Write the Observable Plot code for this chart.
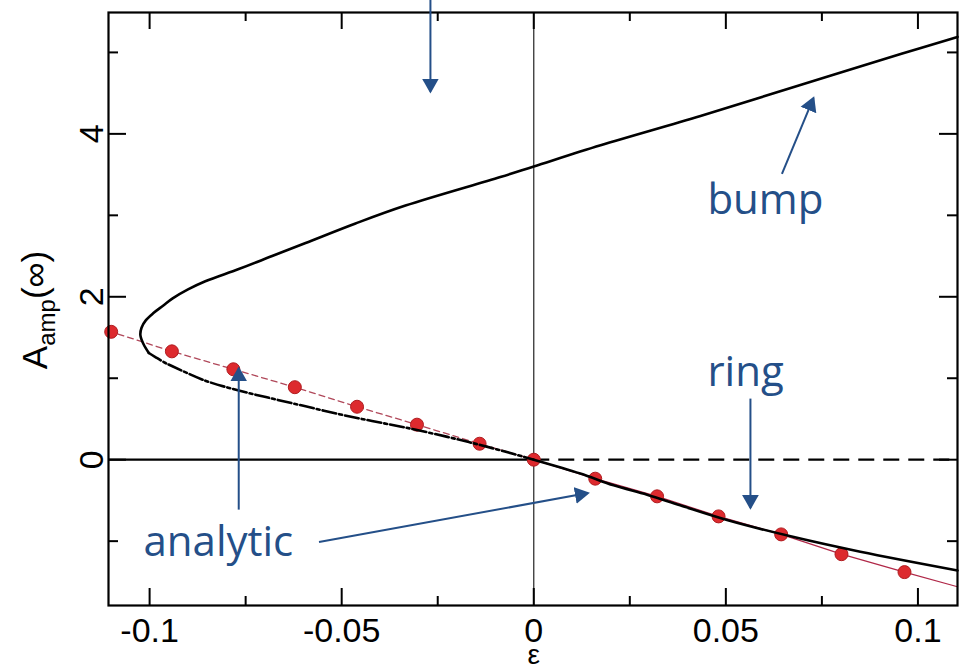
<!DOCTYPE html>
<html><head><meta charset="utf-8">
<script src="https://cdn.jsdelivr.net/npm/d3@7"></script>
<script src="https://cdn.jsdelivr.net/npm/@observablehq/plot@0.6"></script>
<style>body{margin:0;background:#fff;overflow:hidden}</style>
</head><body><div id="chart"></div>
<script>
// ---- data ----
// upper branch ("bump"), drawn solid from just below the fold to the right edge
const bumpEps = [-0.1002, -0.1016, -0.1024, -0.1021, -0.1010, -0.0990, -0.0965, -0.0940, -0.0900, -0.0855, -0.0768, -0.0681, -0.0594, -0.0464, -0.0334, -0.0087, 0, 0.0174, 0.0434, 0.0694, 0.0955, 0.1103];
const bumpA   = [1.31, 1.42, 1.53, 1.62, 1.71, 1.80, 1.89, 1.98, 2.09, 2.19, 2.34, 2.50, 2.66, 2.90, 3.12, 3.47, 3.60, 3.86, 4.22, 4.60, 4.98, 5.19];
// lower branch ("ring"), unstable part (dash-dot, to 0)
const ringUnstEps = [-0.1002, -0.0985, -0.0960, -0.0942, -0.0855, -0.0768, -0.0681, -0.0594, -0.0508, -0.0421, -0.0334, -0.0225, -0.0139, -0.0052, 0];
const ringUnstA   = [1.31, 1.26, 1.19, 1.15, 0.97, 0.85, 0.75, 0.655, 0.56, 0.475, 0.395, 0.28, 0.18, 0.07, 0];
// lower branch, stable part (0 to right edge)
const ringStEps = [0, 0.0121, 0.0208, 0.0295, 0.0381, 0.0503, 0.0677, 0.0850, 0.1103];
const ringStA   = [0, -0.17, -0.315, -0.43, -0.56, -0.74, -0.95, -1.13, -1.36];
// analytic points (red dots)
const dotEps = [-0.1100, -0.0942, -0.0782, -0.0622, -0.0460, -0.0304, -0.0141, 0, 0.0160, 0.0321, 0.0481, 0.0644, 0.0801, 0.0965];
const dotA   = [1.57, 1.33, 1.11, 0.89, 0.65, 0.43, 0.196, 0, -0.233, -0.45, -0.696, -0.917, -1.16, -1.38];
// analytic line
const anaLeftEps = [-0.1107, -0.1100, -0.0942, -0.0782, -0.0622, -0.0460, -0.0304, -0.0141, 0];
const anaLeftA   = [1.58, 1.57, 1.33, 1.11, 0.89, 0.65, 0.43, 0.196, 0];
const anaRightEps = [0, 0.0160, 0.0321, 0.0481, 0.0644, 0.0801, 0.0965, 0.1103];
const anaRightA   = [0, -0.233, -0.45, -0.696, -0.917, -1.16, -1.38, -1.56];

// ticks
const xMajor = [-0.1, -0.05, 0, 0.05, 0.1];
const xTickLabels = ["-0.1", "-0.05", "0", "0.05", "0.1"];
const xMinor = [-0.075, -0.025, 0.025, 0.075];
const yMajor = [0, 2, 4];
const yTickLabels = ["0", "2", "4"];
const yMinor = [-1, 1, 3, 5];
const xLabel = "ε";
const yLabelMain = "A", yLabelSub = "amp", yLabelTail = "(∞)";

// annotations
const annoText = ["bump", "ring", "analytic"];
const annoEps  = [0.0452, 0.0452, -0.1016];
const annoA    = [3.02, 0.90, -1.188];
const arrowX1 = [-0.0269, -0.0768, -0.0559, 0.0646, 0.0564];
const arrowY1 = [5.66, -0.613, -1.01, 3.51, 0.75];
const arrowX2 = [-0.0269, -0.0768, 0.0141, 0.0728, 0.0564];
const arrowY2 = [4.52, 1.12, -0.41, 4.44, -0.59];

// ---- build ----
const W = 965, H = 669, mL = 108, mR = 8, mT = 12, mB = 64;
const innerW = W - mL - mR, innerH = H - mT - mB;
const xDomain = [-0.1107, 0.1103], yDomain = [-1.79, 5.49];
const blue = "#244f88";
const tickFont = "Liberation Sans, Arial, Helvetica, sans-serif";

const zip = (xs, ys) => xs.map((x, i) => ({x, y: ys[i]}));
const bump = zip(bumpEps, bumpA);
const ringU = zip(ringUnstEps, ringUnstA);
const ringS = zip(ringStEps, ringStA);
const dots = zip(dotEps, dotA);
const anaL = zip(anaLeftEps, anaLeftA);
const anaR = zip(anaRightEps, anaRightA);
const annos = annoText.map((t, i) => ({t, x: annoEps[i], y: annoA[i]}));
const arrows = arrowX1.map((x1, i) => ({x1, y1: arrowY1[i], x2: arrowX2[i], y2: arrowY2[i]}));

const plot = Plot.plot({
  width: W, height: H,
  marginLeft: mL, marginRight: mR, marginTop: mT, marginBottom: mB,
  x: {domain: xDomain, axis: null},
  y: {domain: yDomain, axis: null},
  marks: [
    // zero lines
    Plot.ruleY([0], {x1: xDomain[0], x2: 0, stroke: "black", strokeWidth: 2.2}),
    Plot.ruleY([0], {x1: 0, x2: xDomain[1], stroke: "black", strokeWidth: 2.2, strokeDasharray: "16,9"}),
    Plot.ruleX([0], {stroke: "#222", strokeWidth: 1.2}),
    // analytic line + dots
    Plot.line(anaL, {x: "x", y: "y", stroke: "#b0485a", strokeWidth: 1.3, strokeDasharray: "6,4"}),
    Plot.line(anaR, {x: "x", y: "y", stroke: "#b02848", strokeWidth: 1.2}),
    Plot.dot(dots, {x: "x", y: "y", r: 6.5, fill: "#dd2a2e", stroke: "#b01c20", strokeWidth: 1}),
    // branches
    Plot.line(bump, {x: "x", y: "y", curve: "catmull-rom", stroke: "black", strokeWidth: 2.6}),
    Plot.line(ringU, {x: "x", y: "y", curve: "catmull-rom", stroke: "black", strokeWidth: 2.6, strokeDasharray: "14,3,3,3"}),
    Plot.line(ringS, {x: "x", y: "y", curve: "catmull-rom", stroke: "black", strokeWidth: 2.6}),
    // frame and inward ticks
    Plot.frame({stroke: "black", strokeWidth: 2.2}),
    Plot.tickX(xMajor, {x: d => d, insetTop: innerH - 17, stroke: "black", strokeWidth: 2}),
    Plot.tickX(xMajor, {x: d => d, insetBottom: innerH - 17, stroke: "black", strokeWidth: 2}),
    Plot.tickX(xMinor, {x: d => d, insetTop: innerH - 9, stroke: "black", strokeWidth: 2}),
    Plot.tickX(xMinor, {x: d => d, insetBottom: innerH - 9, stroke: "black", strokeWidth: 2}),
    Plot.tickY(yMajor, {y: d => d, insetRight: innerW - 18, stroke: "black", strokeWidth: 2}),
    Plot.tickY(yMajor, {y: d => d, insetLeft: innerW - 18, stroke: "black", strokeWidth: 2}),
    Plot.tickY(yMinor, {y: d => d, insetRight: innerW - 10, stroke: "black", strokeWidth: 2}),
    Plot.tickY(yMinor, {y: d => d, insetLeft: innerW - 10, stroke: "black", strokeWidth: 2}),
    // tick labels
    Plot.text(xMajor, {x: d => d, text: xTickLabels, frameAnchor: "bottom", lineAnchor: "top", dy: 12, fontSize: 34, fontFamily: tickFont, fill: "black"}),
    Plot.text(yMajor, {y: d => d, text: yTickLabels, frameAnchor: "left", dx: -6, rotate: -90, textAnchor: "middle", lineAnchor: "bottom", fontSize: 34, fontFamily: tickFont, fill: "black"}),
    Plot.text([xLabel], {x: () => 0, text: d => d, frameAnchor: "bottom", lineAnchor: "bottom", dy: 58, fontSize: 28, fontFamily: tickFont, fill: "black"}),
    // annotations
    Plot.link(arrows, {x1: "x1", y1: "y1", x2: "x2", y2: "y2", stroke: blue, strokeWidth: 2}),
    Plot.text(annos, {x: "x", y: "y", text: "t", textAnchor: "start", lineAnchor: "bottom", fontSize: 42, fontFamily: "Open Sans, Noto Sans, sans-serif", fill: blue})
  ]
});

const svg = d3.select(plot);
const defs = svg.insert("defs", ":first-child");
defs.append("marker")
  .attr("id", "ahead").attr("markerUnits", "userSpaceOnUse")
  .attr("viewBox", "0 -10 18 20").attr("markerWidth", 18).attr("markerHeight", 20)
  .attr("refX", 13).attr("refY", 0).attr("orient", "auto")
  .append("path").attr("d", "M0,-8.5L15,0L0,8.5Z").attr("fill", blue);
svg.selectAll('g[aria-label="link"] path').attr("marker-end", "url(#ahead)");

// y-axis label with subscript
const yl = svg.append("text")
  .attr("transform", "translate(47,310) rotate(-90)")
  .attr("text-anchor", "middle")
  .attr("font-family", tickFont).attr("font-size", 35).attr("fill", "black");
yl.append("tspan").text(yLabelMain);
yl.append("tspan").attr("font-size", 24).attr("dy", 8).text(yLabelSub);
yl.append("tspan").attr("dy", -8).text(yLabelTail);

document.getElementById("chart").appendChild(plot);
</script>
</body></html>
